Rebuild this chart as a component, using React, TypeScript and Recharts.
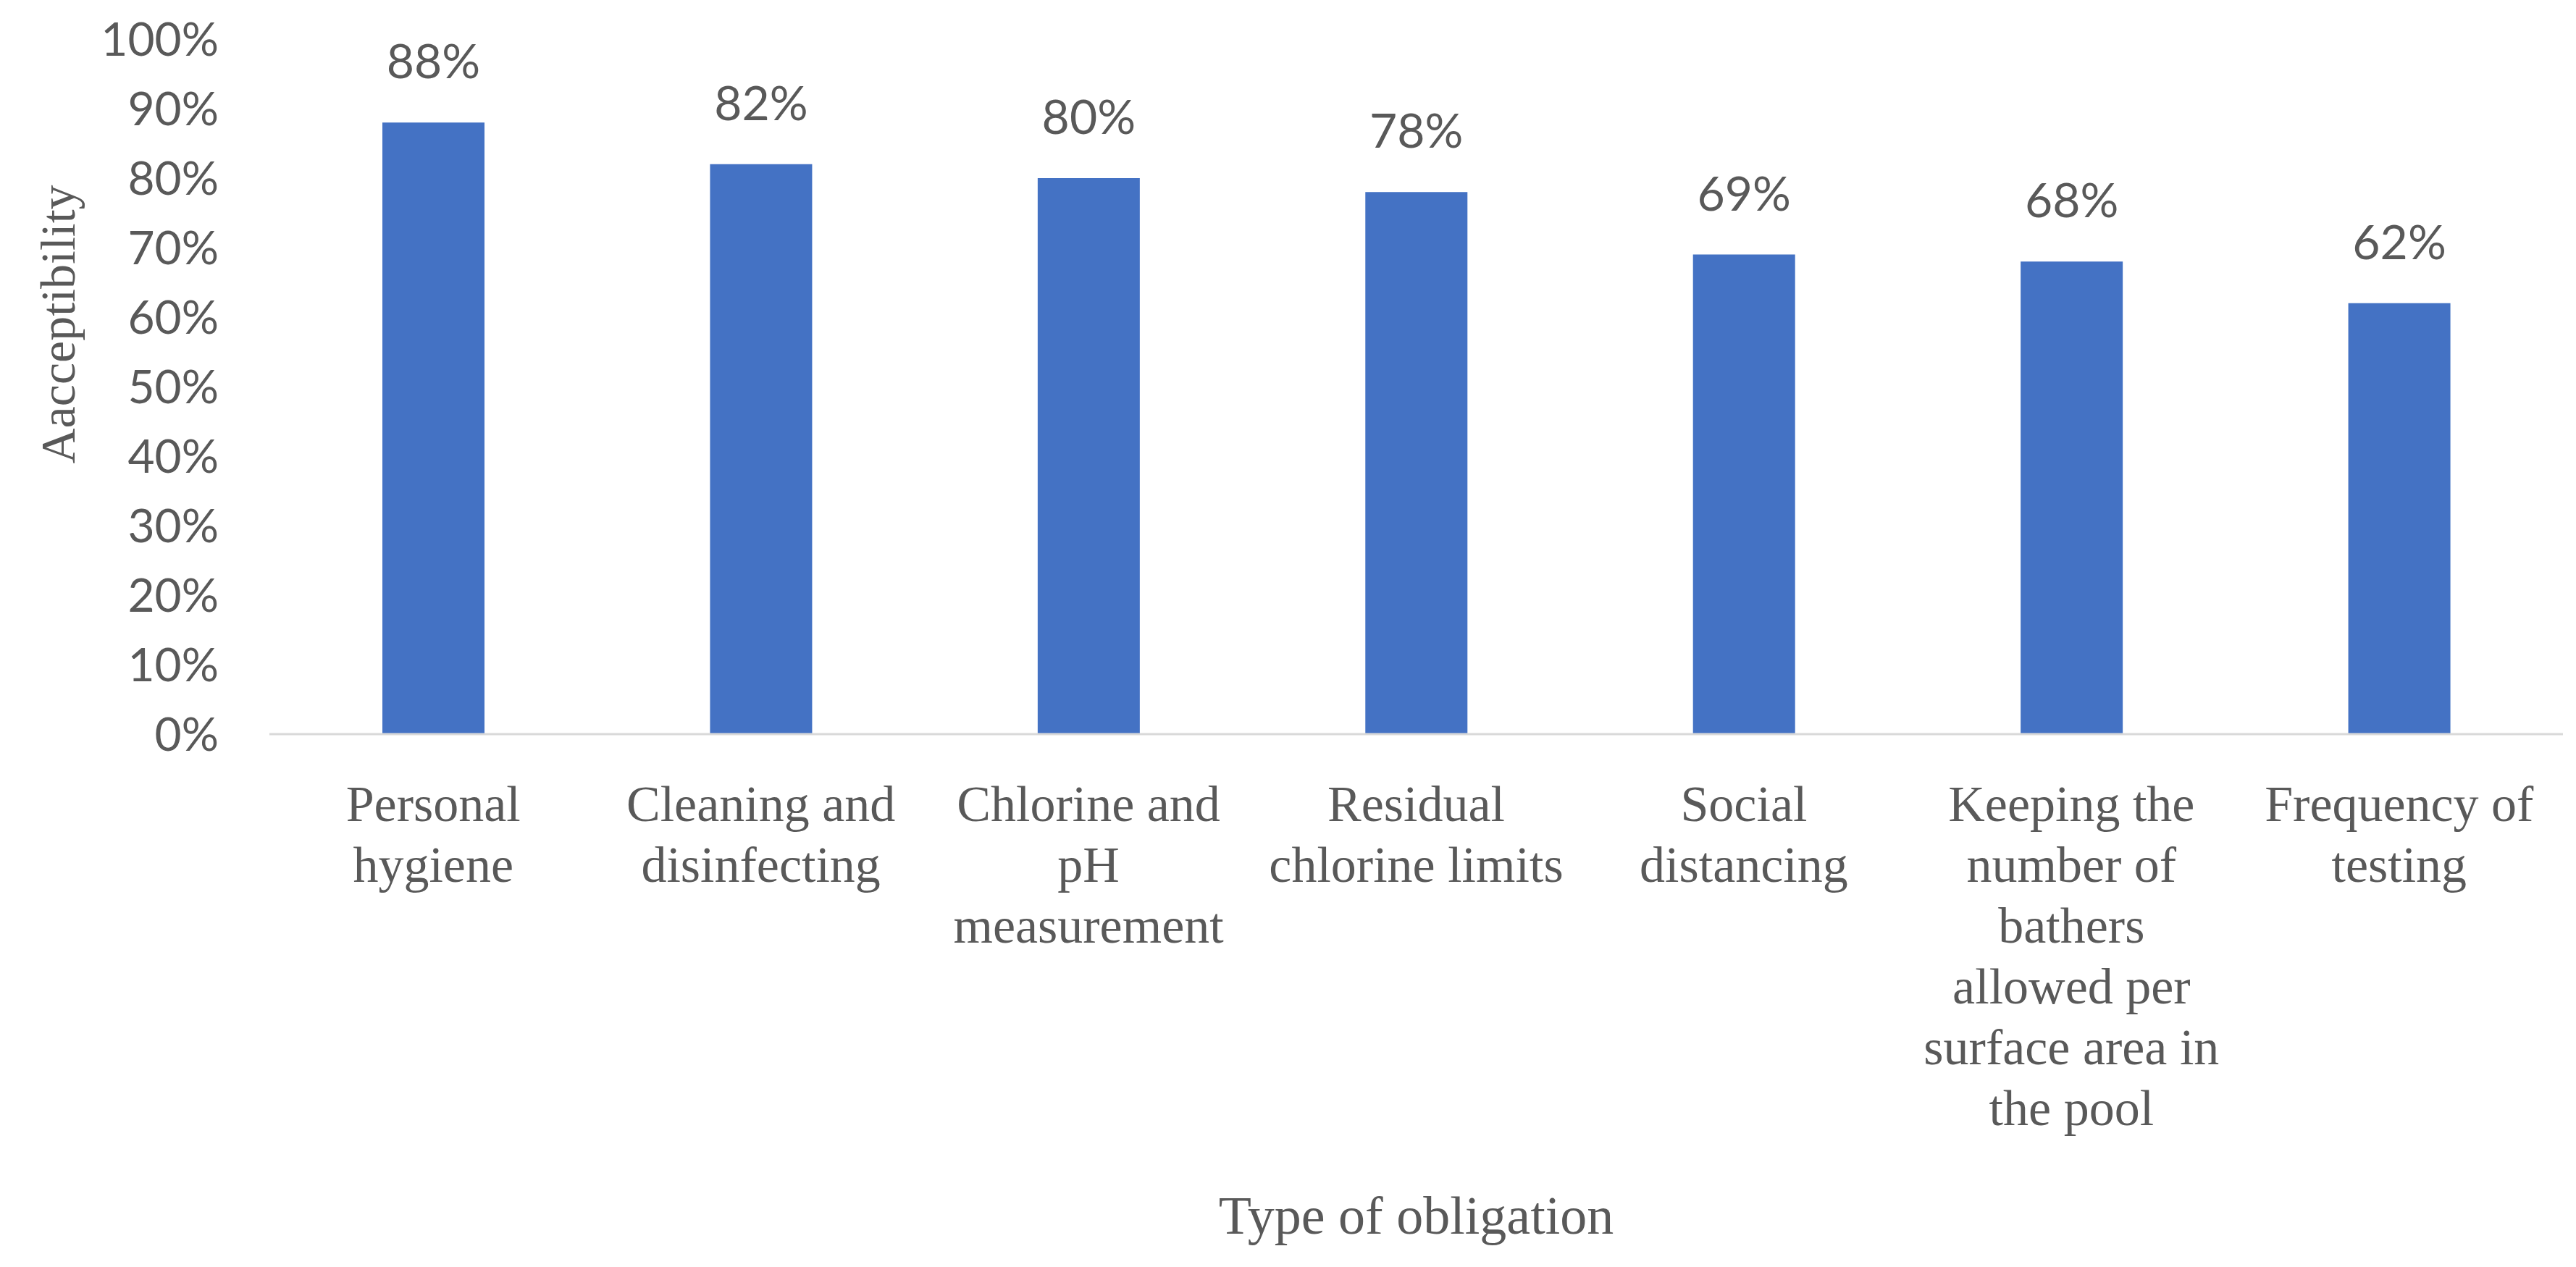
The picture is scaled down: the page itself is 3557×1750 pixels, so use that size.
import React from 'react';
import { BarChart, Bar, XAxis, YAxis, LabelList, Label } from 'recharts';

const categories = [
  'Personal hygiene',
  'Cleaning and disinfecting',
  'Chlorine and pH measurement',
  'Residual chlorine limits',
  'Social distancing',
  'Keeping the number of bathers allowed per surface area in the pool',
  'Frequency of testing'
];

const acceptability = [0.88, 0.82, 0.8, 0.78, 0.69, 0.68, 0.62];

const categoryLines = [
  ['Personal', 'hygiene'],
  ['Cleaning and', 'disinfecting'],
  ['Chlorine and', 'pH', 'measurement'],
  ['Residual', 'chlorine limits'],
  ['Social', 'distancing'],
  ['Keeping the', 'number of', 'bathers', 'allowed per', 'surface area in', 'the pool'],
  ['Frequency of', 'testing']
];

const yTicks = [0, 0.1, 0.2, 0.3, 0.4, 0.5, 0.6, 0.7, 0.8, 0.9, 1];

const data = categories.map((name, i) => ({ name, value: acceptability[i] }));

const TEXT = '#595959';
const SANS = 'Lato, "Open Sans", sans-serif';
const SERIF = '"Liberation Serif", "DejaVu Serif", serif';

const pct = (v: number) => `${Math.round(v * 100)}%`;

function CategoryTick(props: any) {
  const { x, y, payload } = props;
  const lines = categoryLines[categories.indexOf(payload.value)] || [payload.value];
  return (
    <text x={x} y={y} textAnchor="middle" fill={TEXT} fontFamily={SERIF} fontSize={70}>
      {lines.map((line, i) => (
        <tspan key={i} x={x} dy={i === 0 ? 120 : 84}>
          {line}
        </tspan>
      ))}
    </text>
  );
}

function YTitle(props: any) {
  const { viewBox } = props;
  const cx = viewBox.x + 80;
  const cy = viewBox.y + viewBox.height / 2 - 86;
  return (
    <text
      x={cx}
      y={cy}
      transform={`rotate(-90 ${cx} ${cy})`}
      textAnchor="middle"
      dominantBaseline="central"
      fill={TEXT}
      fontFamily={SERIF}
      fontSize={68}
    >
      Aacceptibility
    </text>
  );
}

function XTitle(props: any) {
  const { viewBox } = props;
  return (
    <text
      x={viewBox.x + viewBox.width / 2}
      y={viewBox.y + 690}
      textAnchor="middle"
      fill={TEXT}
      fontFamily={SERIF}
      fontSize={74}
    >
      Type of obligation
    </text>
  );
}

export default function App() {
  return (
    <div style={{ position: 'absolute', left: 0, top: 0, background: '#fff' }}>
      <BarChart
        width={3557}
        height={1750}
        data={data}
        margin={{ top: 54, right: 18, bottom: 0, left: 0 }}
      >
        <XAxis
          dataKey="name"
          height={736}
          interval={0}
          tickLine={false}
          tickSize={0}
          tickMargin={0}
          axisLine={{ stroke: '#D9D9D9', strokeWidth: 3 }}
          tick={<CategoryTick />}
        >
          <Label content={<XTitle />} />
        </XAxis>
        <YAxis
          width={372}
          domain={[0, 1]}
          ticks={yTicks}
          interval={0}
          tickFormatter={pct}
          axisLine={false}
          tickLine={false}
          tickSize={0}
          tickMargin={70}
          tick={{ fill: TEXT, fontFamily: SANS, fontSize: 64 }}
        >
          <Label content={<YTitle />} />
        </YAxis>
        <Bar dataKey="value" fill="#4472C4" barSize={141} isAnimationActive={false}>
          <LabelList
            dataKey="value"
            position="top"
            offset={61}
            formatter={(v: any) => pct(Number(v))}
            fill={TEXT}
            fontFamily={SANS}
            fontSize={66}
          />
        </Bar>
      </BarChart>
    </div>
  );
}
